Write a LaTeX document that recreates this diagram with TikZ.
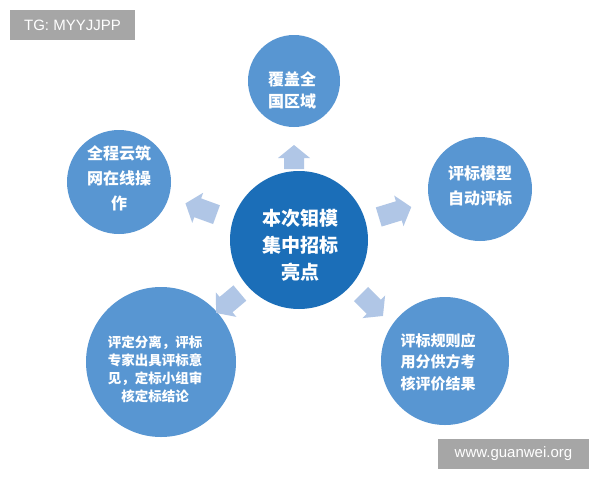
\documentclass[tikz,border=0pt]{standalone}
\usepackage{fontspec}
\setmainfont{Liberation Sans}
\newfontfamily\cjk{Noto Sans CJK SC}
\definecolor{hubblue}{HTML}{1B6EB8}
\definecolor{outblue}{HTML}{5896D2}
\definecolor{arrblue}{HTML}{B0C6E6}
\definecolor{wmgray}{HTML}{A6A6A6}
\tikzset{
  hub/.style={circle, fill=hubblue, inner sep=0pt},
  outer/.style={circle, fill=outblue, inner sep=0pt},
  ctext/.style={text=white, align=center, inner sep=0pt, font=\cjk\bfseries},
  blockarrow/.style={fill=arrblue},
  wmbox/.style={fill=wmgray, text=white, inner sep=0pt, font=\fontsize{15}{18}\selectfont}
}
% #1,#2 centre, #3 angle, #4 length
\newcommand\blkarrow[4]{%
  \fill[blockarrow, shift={(#1,#2)}, rotate=#3]
    ({-#4/2},-10) -- ({#4/2-13},-10) -- ({#4/2-13},-16) -- ({#4/2},0)
    -- ({#4/2-13},16) -- ({#4/2-13},10) -- ({-#4/2},10) -- cycle;}
\begin{document}
\begin{tikzpicture}[x=1pt,y=-1pt]
\useasboundingbox (0,0) rectangle (600,480);
\fill[white] (0,0) rectangle (600,480);
% circles
\node[hub, minimum size=138pt] (hubc) at (299,240) {};
\node[outer, minimum size=92pt] (topc) at (294,81) {};
\node[outer, minimum size=104pt] (rightc) at (480,189) {};
\node[outer, minimum size=104pt] (leftc) at (119,182) {};
\node[outer, minimum size=150pt] (llc) at (161,362) {};
\node[outer, minimum size=128pt] (lrc) at (445,361) {};
% texts
\node[ctext, font=\cjk\bfseries\fontsize{19}{27}\selectfont] (hubt) at (300,245) {本次钼模\\集中招标\\亮点};
\node[ctext, font=\cjk\bfseries\fontsize{16}{22}\selectfont] (topt) at (292,90) {覆盖全\\国区域};
\node[ctext, font=\cjk\bfseries\fontsize{16}{25}\selectfont] (rightt) at (480,186) {评标模型\\自动评标};
\node[ctext, font=\cjk\bfseries\fontsize{16}{25}\selectfont] (leftt) at (119,178) {全程云筑\\网在线操\\作};
\node[ctext, font=\cjk\bfseries\fontsize{13.5}{18}\selectfont] (llt) at (155,369) {评定分离，评标\\专家出具评标意\\见，定标小组审\\核定标结论};
\node[ctext, font=\cjk\bfseries\fontsize{15}{21.5}\selectfont] (lrt) at (438,362) {评标规则应\\用分供方考\\核评价结果};
% arrows
\blkarrow{294}{157}{90}{24}
\blkarrow{395}{212}{17}{34}
\blkarrow{201}{209}{160}{33}
\blkarrow{228}{303}{220}{31}
\blkarrow{372}{305}{-45}{31}
% watermarks
\node[wmbox, minimum width=125pt, minimum height=30pt] (wm1) at (72.5,25) {TG: MYYJJPP};
\node[wmbox, minimum width=151pt, minimum height=30pt] (wm2) at (513.5,454) {www.guanwei.org};
\end{tikzpicture}
\end{document}
